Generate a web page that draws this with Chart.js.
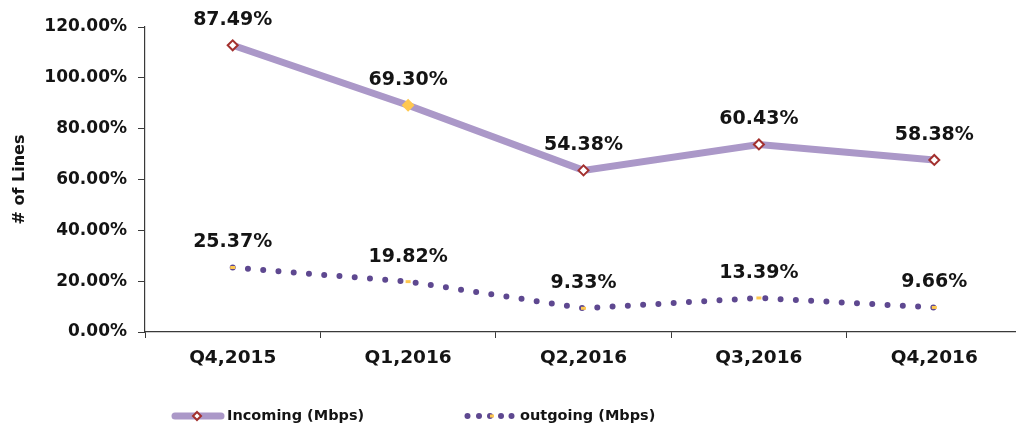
<!DOCTYPE html>
<html>
<head>
<meta charset="utf-8">
<script src="https://cdn.jsdelivr.net/npm/chart.js@4"></script>
<style>
    html, body { margin: 0; padding: 0; background: #fff; overflow: hidden; }
    #contenedor { width: 1016px; height: 432px; overflow: hidden; }
</style>
</head>
<body>
<div id="contenedor"><canvas id="grafico" width="1029" height="432"></canvas></div>
<script>
// Datos
const categorias = ['Q4,2015', 'Q1,2016', 'Q2,2016', 'Q3,2016', 'Q4,2016'];
const incoming = [112.8, 89.2, 63.6, 73.8, 67.7];            // posición dibujada
const incomingEtiquetas = ['87.49%', '69.30%', '54.38%', '60.43%', '58.38%'];
const outgoing = [25.37, 19.82, 9.33, 13.39, 9.66];
const ticksY = [0, 20, 40, 60, 80, 100, 120];

const FUENTE = '"DejaVu Sans", sans-serif';
const LILA   = '#ab98c8';
const MORADO = '#5e4890';
const ROJO   = '#a3302e';
const AMARILLO = '#ffc850';
const TEXTO  = '#141414';
const EJE    = '#3a3a3a';

// Etiquetas de datos sobre cada punto
const pluginEtiquetas = {
    id: 'etiquetas',
    afterDatasetsDraw(chart) {
        const ctx = chart.ctx;
        ctx.save();
        ctx.font = 'bold 19px ' + FUENTE;
        ctx.fillStyle = TEXTO;
        ctx.textAlign = 'center';
        ctx.textBaseline = 'middle';
        chart.getDatasetMeta(0).data.forEach((p, i) => ctx.fillText(incomingEtiquetas[i], p.x, p.y - 25));
        chart.getDatasetMeta(1).data.forEach((p, i) => ctx.fillText(outgoing[i].toFixed(2) + '%', p.x, p.y - 25));
        ctx.restore();
    }
};

// Leyenda dibujada a mano (línea con rombo / línea punteada)
const pluginLeyenda = {
    id: 'leyenda',
    afterDraw(chart) {
        const ctx = chart.ctx;
        const y = 416;
        ctx.save();
        // Incoming
        ctx.strokeStyle = LILA;
        ctx.lineWidth = 7;
        ctx.lineCap = 'round';
        ctx.beginPath(); ctx.moveTo(175, y); ctx.lineTo(221, y); ctx.stroke();
        ctx.fillStyle = '#fff';
        ctx.strokeStyle = ROJO;
        ctx.lineWidth = 2;
        ctx.beginPath();
        ctx.moveTo(197, y - 4); ctx.lineTo(201, y); ctx.lineTo(197, y + 4); ctx.lineTo(193, y);
        ctx.closePath(); ctx.fill(); ctx.stroke();
        // outgoing
        ctx.fillStyle = MORADO;
        [467.5, 479, 490, 501, 511.5].forEach(x => {
            ctx.beginPath(); ctx.arc(x, y, 3, 0, Math.PI * 2); ctx.fill();
        });
        ctx.fillStyle = AMARILLO;
        ctx.fillRect(490, y - 1.5, 4, 3);
        // textos
        ctx.fillStyle = TEXTO;
        ctx.font = 'bold 14.5px ' + FUENTE;
        ctx.textAlign = 'left';
        ctx.textBaseline = 'middle';
        ctx.fillText('Incoming (Mbps)', 227, y);
        ctx.fillText('outgoing (Mbps)', 520, y);
        ctx.restore();
    }
};

const ctx = document.getElementById('grafico').getContext('2d');
new Chart(ctx, {
    type: 'line',
    data: {
        labels: categorias,
        datasets: [
            {
                label: 'Incoming (Mbps)',
                data: incoming,
                borderColor: LILA,
                borderWidth: 7,
                tension: 0,
                pointStyle: 'rectRot',
                pointRadius: 5,
                pointBorderWidth: 2,
                pointBorderColor: categorias.map((c, i) => i === 1 ? AMARILLO : ROJO),
                pointBackgroundColor: categorias.map((c, i) => i === 1 ? AMARILLO : '#fff')
            },
            {
                label: 'outgoing (Mbps)',
                data: outgoing,
                borderColor: MORADO,
                borderWidth: 6,
                borderDash: [0, 15.3],
                borderCapStyle: 'round',
                tension: 0,
                pointStyle: 'line',
                pointRadius: 2.5,
                pointBorderWidth: 3,
                pointBorderColor: AMARILLO,
                pointBackgroundColor: AMARILLO
            }
        ]
    },
    options: {
        responsive: false,
        animation: false,
        layout: { padding: { top: 27, left: 0, right: 0, bottom: 0 } },
        plugins: {
            legend: { display: false },
            tooltip: { enabled: false }
        },
        scales: {
            x: {
                offset: true,
                grid: { offset: true, drawOnChartArea: false, drawTicks: true, tickLength: 6, color: EJE },
                border: { display: true, color: EJE, width: 1.2 },
                ticks: { color: TEXTO, padding: 9, font: { family: FUENTE, size: 18.5, weight: 'bold' } },
                afterFit(s) { s.height = 100; }
            },
            y: {
                min: 0,
                max: 120,
                afterBuildTicks(s) { s.ticks = ticksY.map(v => ({ value: v })); },
                ticks: {
                    color: TEXTO,
                    padding: 11,
                    font: { family: FUENTE, size: 17, weight: 'bold' },
                    callback: v => v.toFixed(2) + '%'
                },
                grid: { drawOnChartArea: false, drawTicks: true, tickLength: 7, color: EJE },
                border: { display: true, color: EJE, width: 1.2 },
                title: {
                    display: true,
                    text: '# of Lines',
                    color: TEXTO,
                    font: { family: FUENTE, size: 16, weight: 'bold' },
                    padding: { top: 10, bottom: 0 }
                },
                afterFit(s) { s.width = 145; }
            }
        }
    },
    plugins: [pluginEtiquetas, pluginLeyenda]
});
</script>
</body>
</html>
